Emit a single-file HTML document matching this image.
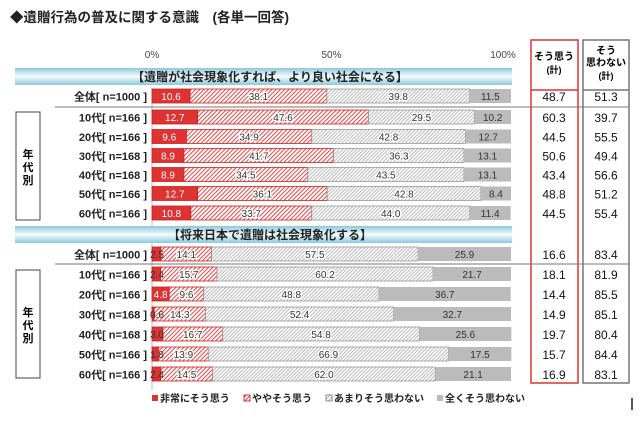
<!DOCTYPE html>
<html><head><meta charset="utf-8"><style>
body{margin:0;background:#fff}
svg{display:block;font-family:"Liberation Sans","Noto Sans CJK JP",sans-serif}
</style></head><body>
<svg width="640" height="426" viewBox="0 0 640 426">
<defs>
<pattern id="hr" width="3" height="3" patternUnits="userSpaceOnUse" patternTransform="rotate(45)"><rect width="3" height="3" fill="#fff"/><rect width="1.1" height="3" fill="#d55"/></pattern>
<pattern id="hg" width="2.5" height="2.5" patternUnits="userSpaceOnUse" patternTransform="rotate(45)"><rect width="2.5" height="2.5" fill="#fff"/><rect width="0.8" height="2.5" fill="#aaa"/></pattern>
<linearGradient id="bn" x1="0" y1="0" x2="0" y2="1"><stop offset="0" stop-color="#8cc8dc"/><stop offset="0.5" stop-color="#f4fbfd"/><stop offset="1" stop-color="#8cc8dc"/></linearGradient>
</defs>
<text x="10" y="22" font-size="13.5" font-weight="bold" fill="#222">◆遺贈行為の普及に関する意識　(各単一回答)</text>
<g id="axis" font-size="10" fill="#444"></g>
<rect x="15" y="68" width="497" height="17" fill="url(#bn)"/>
<text x="270" y="81" font-size="12" font-weight="bold" text-anchor="middle" fill="#222">【遺贈が社会現象化すれば、より良い社会になる】</text>
<rect x="15" y="226" width="497" height="17" fill="url(#bn)"/>
<text x="270" y="239" font-size="12" font-weight="bold" text-anchor="middle" fill="#222">【将来日本で遺贈は社会現象化する】</text>
<rect x="531" y="40" width="47" height="343" fill="none" stroke="#d33" stroke-width="1.5"/>
<line x1="531" y1="90" x2="578" y2="90" stroke="#d33" stroke-width="1.5"/>
<rect x="583" y="40" width="46" height="343" fill="none" stroke="#777" stroke-width="1.5"/>
<line x1="583" y1="90" x2="629" y2="90" stroke="#777" stroke-width="1.5"/>
<text x="554" y="60" font-size="10" font-weight="bold" text-anchor="middle">そう思う<tspan x="554" dy="13" font-size="9">(計)</tspan></text>
<text x="606" y="54" font-size="10" font-weight="bold" text-anchor="middle">そう<tspan x="606" dy="12">思わない</tspan><tspan x="606" dy="13" font-size="9">(計)</tspan></text>
<line x1="55" y1="107" x2="629" y2="107" stroke="#777"/>
<line x1="55" y1="264" x2="629" y2="264" stroke="#777"/>
<rect x="16" y="112" width="24" height="108" fill="none" stroke="#444"/>
<text x="28" y="158" font-size="11" font-weight="bold" text-anchor="middle">年<tspan x="28" dy="13">代</tspan><tspan x="28" dy="13">別</tspan></text>
<rect x="16" y="270" width="24" height="108" fill="none" stroke="#444"/>
<text x="28" y="316" font-size="11" font-weight="bold" text-anchor="middle">年<tspan x="28" dy="13">代</tspan><tspan x="28" dy="13">別</tspan></text>
<g id="bars"></g>
<g font-size="10" font-weight="bold" fill="#222">
<rect x="152" y="395" width="6" height="6" fill="#d33"/><text x="160" y="402">非常にそう思う</text>
<rect x="244" y="395" width="6" height="6" fill="url(#hr)" stroke="#d33"/><text x="252" y="402">ややそう思う</text>
<rect x="326" y="395" width="6" height="6" fill="url(#hg)" stroke="#888"/><text x="334" y="402">あまりそう思わない</text>
<rect x="437" y="395" width="6" height="6" fill="#bbb"/><text x="445" y="402">全くそう思わない</text>
</g>
<line x1="632" y1="398" x2="632" y2="410" stroke="#222" stroke-width="1.5"/>
</svg>
<script>
const labels1=["全体[n=1000]","10代[n=166]","20代[n=166]","30代[n=168]","40代[n=168]","50代[n=166]","60代[n=166]"];
const strong1=[10.6,12.7,9.6,8.9,8.9,12.7,10.8];
const some1=[38.1,47.6,34.9,41.7,34.5,36.1,33.7];
const notMuch1=[39.8,29.5,42.8,36.3,43.5,42.8,44.0];
const notAt1=[11.5,10.2,12.7,13.1,13.1,8.4,11.4];
const agree1=["48.7","60.3","44.5","50.6","43.4","48.8","44.5"];
const disagree1=["51.3","39.7","55.5","49.4","56.6","51.2","55.4"];
const labels2=["全体[n=1000]","10代[n=166]","20代[n=166]","30代[n=168]","40代[n=168]","50代[n=166]","60代[n=166]"];
const strong2=[2.5,2.4,4.8,0.6,3.0,1.8,2.4];
const some2=[14.1,15.7,9.6,14.3,16.7,13.9,14.5];
const notMuch2=[57.5,60.2,48.8,52.4,54.8,66.9,62.0];
const notAt2=[25.9,21.7,36.7,32.7,25.6,17.5,21.1];
const agree2=["16.6","18.1","14.4","14.9","19.7","15.7","16.9"];
const disagree2=["83.4","81.9","85.5","85.1","80.4","84.4","83.1"];
const ticks=[0,50,100];
const NS="http://www.w3.org/2000/svg";
const X0=152,X1=511;
const xs=v=>X0+(X1-X0)*v/100;
function mk(tag,attrs,parent,txt){const e=document.createElementNS(NS,tag);for(const k in attrs)e.setAttribute(k,attrs[k]);if(txt!==undefined)e.textContent=txt;parent.appendChild(e);return e;}
const ax=document.getElementById('axis');
ticks.forEach(t=>{const e=mk('text',{x:xs(t)+(t===100?-8:0),y:58,'text-anchor':'middle'},ax,t+'%');

});
mk('line',{x1:X0,y1:88,x2:X0,y2:390,stroke:'#bbb'},ax);
const g=document.getElementById('bars');
function section(labels,s,m,n,a,agree,dis,ys,sec){
 labels.forEach((lab,i)=>{
  const y=ys[i],h=14;
  const t=mk('text',{x:147,y:y+4.5,'font-size':11,'text-anchor':'end',fill:'#222','font-weight':'bold'},g,lab.replace('[','[ ').replace(']',' ]'));
  
  
  const vals=[s[i],m[i],n[i],a[i]];
  const fills=['#d33','url(#hr)','url(#hg)','#bbb'];
  const strokes=['#c22','#c22','#999','none'];
  const kinds=['strongly-agree','somewhat-agree','somewhat-disagree','strongly-disagree'];
  let acc=0;
  vals.forEach((v,k)=>{
   const x=xs(acc),w=xs(acc+v)-xs(acc);
   const r=mk('rect',{x:x,y:y-h/2,width:w,height:h,fill:fills[k],stroke:strokes[k],'stroke-width':0.8},g);
   
   
   acc+=v;
  });
  acc=0;
  vals.forEach((v,k)=>{
   const x=xs(acc),w=xs(acc+v)-xs(acc);
   const small=w<16;
   const tx=mk('text',{x:small?x-2:x+w/2,y:y+4,'font-size':10,'text-anchor':small?'start':'middle',fill:(k===0&&!small)?'#fff':'#333'},g,v.toFixed(1));
   if(k===1||k===2){tx.setAttribute('paint-order','stroke');tx.setAttribute('stroke','#fff');tx.setAttribute('stroke-width','2.5');}
   
   
   acc+=v;
  });
  const t1=mk('text',{x:554,y:y+5,'font-size':12,'text-anchor':'middle',fill:'#111'},g,agree[i]);
  
  
  const t2=mk('text',{x:606,y:y+5,'font-size':12,'text-anchor':'middle',fill:'#111'},g,dis[i]);
  
  
 });
}
section(labels1,strong1,some1,notMuch1,notAt1,agree1,disagree1,[96,117,136.5,155.5,174.5,193.5,213],1);
section(labels2,strong2,some2,notMuch2,notAt2,agree2,disagree2,[254,274,294,314,334,354,374],2);
</script>
</body></html>
